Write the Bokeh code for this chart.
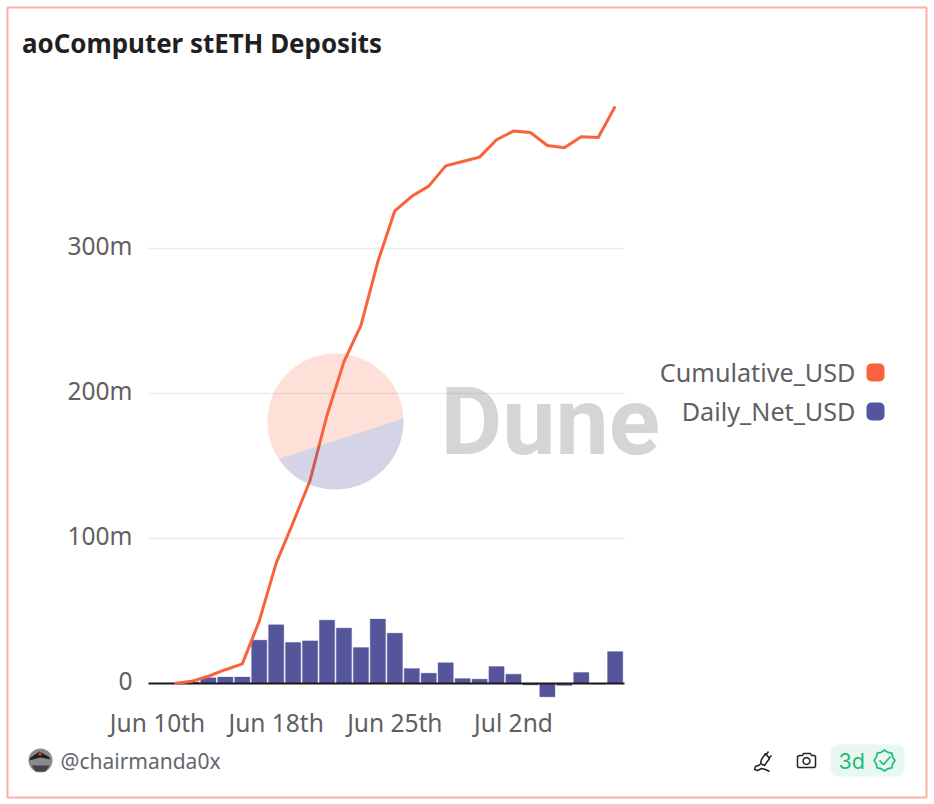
import numpy as np
from bokeh.plotting import figure
from bokeh.embed import file_html
from bokeh.resources import INLINE
from bokeh.models import (Label, BoxAnnotation, PolyAnnotation, FixedTicker,
                          Range1d, ColumnDataSource)

# ---- data ----
TITLE = "aoComputer stETH Deposits"
days = list(range(27))
daily_net_usd = [0, 1.1, 3.9, 4.4, 4.4, 29.9, 40.5, 28.3, 29.4, 43.7, 38.2, 24.8, 44.4, 34.7,
                 10.3, 7.1, 14.3, 3.4, 3.0, 11.7, 6.4, -1.0, -9.2, -1.3, 7.6, -0.4, 22.0]
cumulative_usd = [0, 1.5, 5, 9.5, 13.5, 43, 83, 111, 140, 185, 222, 247, 291, 326, 336, 343,
                  357, 360, 363, 375, 381, 380, 371, 369.5, 377, 376.5, 398]
x_tick_positions = [-1, 6, 13, 20]
x_tick_labels = ["Jun 10th", "Jun 18th", "Jun 25th", "Jul 2nd"]
y_tick_positions = [0, 100, 200, 300]
y_tick_labels = ["0", "100m", "200m", "300m"]
series_names = ["Cumulative_USD", "Daily_Net_USD"]
series_colors = ["#f9623a", "#55559b"]

FONT = "Noto Sans"
TXT = "#5f5f64"
W, H = 934, 804
PLOT_X0, PLOT_X1 = -1.534, 26.55
LABEL_NUDGE = 2  # y tick labels sit slightly above their grid lines

# the frame fills the page; axes sit inside it at fixed locations
p = figure(width=W, height=H, output_backend="svg", toolbar_location=None,
           x_range=Range1d(-10.265, 44.84), y_range=Range1d(-83.45, 471.03),
           min_border=0, outline_line_color=None,
           background_fill_color="white", border_fill_color="white")

p.xgrid.visible = False
p.ygrid.visible = False
n_grid = len(y_tick_positions) - 1
p.segment(x0=[PLOT_X0] * n_grid, x1=[PLOT_X1] * n_grid, y0=y_tick_positions[1:], y1=y_tick_positions[1:],
          line_color="#ececec", line_width=1.5)

p.xaxis.fixed_location = -5.5
p.yaxis.fixed_location = PLOT_X0
p.xaxis.ticker = FixedTicker(ticks=x_tick_positions)
p.xaxis.major_label_overrides = dict(zip(x_tick_positions, x_tick_labels))
shifted = [v + LABEL_NUDGE for v in y_tick_positions]
p.yaxis.ticker = FixedTicker(ticks=shifted)
p.yaxis.major_label_overrides = dict(zip(shifted, y_tick_labels))
for ax in (p.xaxis[0], p.yaxis[0]):
    ax.axis_line_color = None
    ax.major_tick_line_color = None
    ax.minor_tick_line_color = None
    ax.major_label_text_font = FONT
    ax.major_label_text_font_size = "24.5px"
    ax.major_label_text_color = TXT
p.yaxis[0].major_label_standoff = 10
p.xaxis[0].major_label_standoff = 9

src = ColumnDataSource(dict(day=days, daily=daily_net_usd, cum=cumulative_usd))
p.vbar(x="day", top="daily", bottom=0, width=0.9, source=src, fill_color=series_colors[1],
       line_color=series_colors[1], line_alpha=0.35, line_width=1)
p.segment(x0=[PLOT_X0], x1=[PLOT_X1], y0=y_tick_positions[:1], y1=y_tick_positions[:1],
          line_color="#1a1a1a", line_width=2)
p.line(x="day", y="cum", source=src, line_color=series_colors[0], line_width=3, line_join="round")


def poly(xs, ys, fill=None, falpha=1.0, line=None, lw=1.5):
    p.add_layout(PolyAnnotation(xs=[float(v) for v in xs], ys=[float(v) for v in ys],
                                xs_units="canvas", ys_units="canvas",
                                fill_color=fill, fill_alpha=falpha if fill else 0,
                                line_color=line, line_width=lw, line_alpha=1 if line else 0))


def box(l, t, r, b, fill=None, falpha=1.0, line=None, lw=1.0, rad=0):
    p.add_layout(BoxAnnotation(left=l, right=r, top=t, bottom=b,
                               left_units="canvas", right_units="canvas",
                               top_units="canvas", bottom_units="canvas",
                               fill_color=fill, fill_alpha=falpha if fill else 0,
                               line_color=line, line_width=lw, line_alpha=1 if line else 0,
                               border_radius=rad, editable=False))


def text(x, y, s, size, color=TXT, align="left", style="normal", font=FONT, alpha=1.0):
    p.add_layout(Label(x=x, y=y, x_units="canvas", y_units="canvas", text=s,
                       text_font=font, text_font_size=size, text_color=color,
                       text_align=align, text_baseline="middle", text_font_style=style,
                       text_alpha=alpha))


# title
text(21.5, 42, TITLE, "25.9px", color="#1f1f24", style="bold")

# watermark
cx, cy, r = 335, 421, 68
a0 = np.arctan2(418 - cy, 403 - cx)
a1 = np.arctan2(458 - cy, 279 - cx)
t_up = np.linspace(a0, a1 - 2 * np.pi, 80)
t_lo = np.linspace(a0, a1, 60)
poly(cx + r * np.cos(t_up), cy + r * np.sin(t_up), fill="#f9623a", falpha=0.2)
poly(cx + r * np.cos(t_lo), cy + r * np.sin(t_lo), fill="#55559b", falpha=0.25)
text(440, 421, "Dune", "95px", color="#808080", style="bold", font="Roboto", alpha=0.33)

# legend
text(855, 371, series_names[0], "25.2px", align="right")
text(855, 410, series_names[1], "25.2px", align="right")
box(866, 363, 884, 381, fill=series_colors[0], rad=5)
box(866, 402, 884, 420, fill=series_colors[1], rad=5)

# footer
box(28, 748, 52, 772, fill="#8a8a8a", rad=12)
poly([30, 39, 48, 50, 40, 29], [757, 751, 756, 759, 757, 760], fill="#222222")
poly([31, 49, 45, 35], [765, 765, 771, 771], fill="#444444")
box(38, 752, 41, 755, fill="#d8432c", rad=1)
text(60, 760, "@chairmanda0x", "21px", color="#66666b")

# plug icon
poly([761, 765, 769, 764, 760, 761], [759, 753, 758, 765, 763, 759], line="#222222")
poly([765, 768, 765], [755, 751, 755], line="#222222")
poly([768, 771, 768], [758, 755, 758], line="#222222")
poly([760, 755, 754, 757, 761, 765, 769, 765, 761, 757, 754, 755, 760],
     [764, 766, 769, 770, 768, 769, 771, 769, 768, 770, 769, 766, 764], line="#222222")
# camera icon
poly([799, 802, 803, 810, 811, 814, 815, 815, 814, 798, 797, 797],
     [755, 755, 753, 753, 755, 755, 756, 766, 767, 767, 766, 756], line="#222222")
t = np.linspace(0, 2 * np.pi, 30)
poly(806 + 3.4 * np.cos(t), 760.5 + 3.4 * np.sin(t), line="#222222")

# freshness chip
box(830, 744, 904, 776, fill="#e8f7f0", rad=8)
text(838, 760, "3d", "21.5px", color="#1ebc7a", font="Inter")
t = np.linspace(0, 2 * np.pi, 17)
rr = np.where(np.arange(17) % 2 == 0, 10.5, 8.8)
poly(884 + rr * np.cos(t), 760 + rr * np.sin(t), line="#1ebc7a", lw=1.7)
poly([879, 883, 890, 883], [760, 764, 756, 764], line="#1ebc7a", lw=1.7)

# card border
box(7, 7, 926, 797, line="#fbb0a3", lw=2)

open("out.html", "w").write(file_html(p, INLINE))
